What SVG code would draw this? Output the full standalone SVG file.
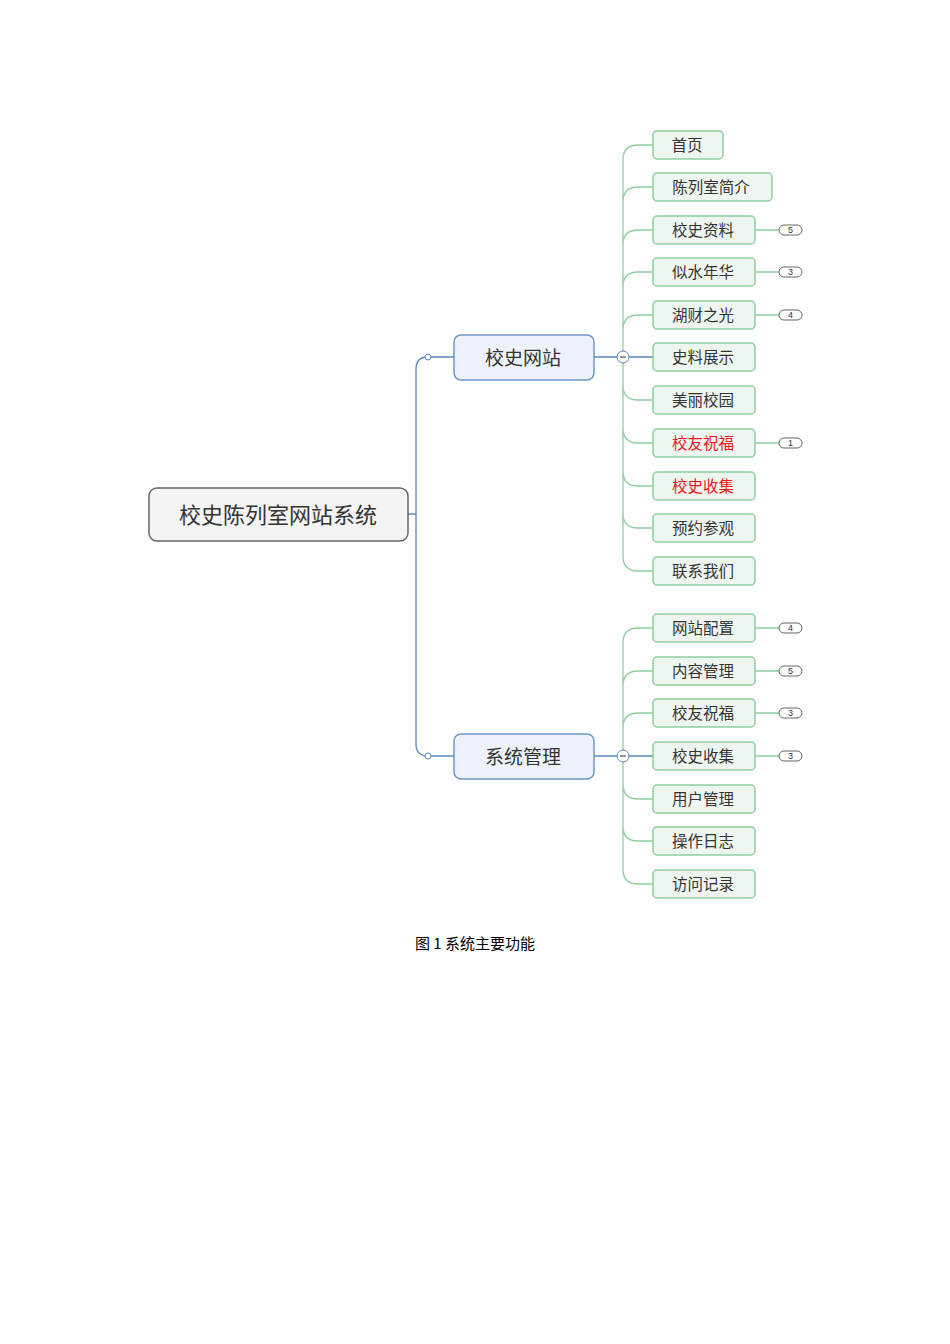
<svg xmlns="http://www.w3.org/2000/svg" width="950" height="1344" viewBox="0 0 950 1344">
<style>
text{font-family:"Noto Sans CJK SC","Liberation Sans",sans-serif;fill:#333;dominant-baseline:central;text-anchor:middle}
.leaf rect{fill:#eef7ef;stroke:#8fcfa0;stroke-width:1.5}
.leaf text{font-size:15.5px}
.red text{fill:#e8161b}
.br rect{fill:#eef3fb;stroke:#6d97c9;stroke-width:1.5}
.br text{font-size:19px}
.g{fill:none;stroke:#8fcfa0;stroke-width:1.3}
.b{fill:none;stroke:#5a88bf;stroke-width:1.3}
.badge{fill:#fff;stroke:#666;stroke-width:1}
.bt{font-size:9px;font-family:"Liberation Sans",sans-serif}
</style>
<g id="connectors">
<path class="b" d="M408,514 L416,514 M416,369 Q416,357 428,357 L454,357 M416,369 L416,744 Q416,756 428,756 L454,756"/>
<circle cx="428" cy="357" r="3" fill="#fff" stroke="#5a88bf"/>
<circle cx="428" cy="756" r="3" fill="#fff" stroke="#5a88bf"/>
<path class="b" d="M594,357 L653,357 M594,756 L653,756"/>
<path class="g" d="M623,357 L623,160 Q623,145 638,145 L653,145 M623,202 Q623,187 638,187 L653,187 M623,245 Q623,230 638,230 L653,230 M623,287 Q623,272 638,272 L653,272 M623,330 Q623,315 638,315 L653,315 M623,357 L623,556 Q623,571 638,571 L653,571 M623,385 Q623,400 638,400 L653,400 M623,428 Q623,443 638,443 L653,443 M623,471 Q623,486 638,486 L653,486 M623,513 Q623,528 638,528 L653,528"/>
<path class="g" d="M623,756 L623,643 Q623,628 638,628 L653,628 M623,686 Q623,671 638,671 L653,671 M623,728 Q623,713 638,713 L653,713 M623,756 L623,869 Q623,884 638,884 L653,884 M623,784 Q623,799 638,799 L653,799 M623,826 Q623,841 638,841 L653,841"/>
<circle cx="623" cy="357" r="6" fill="#fff" stroke="#5a88bf"/><path d="M620,357 h6" stroke="#333"/>
<circle cx="623" cy="756" r="6" fill="#fff" stroke="#5a88bf"/><path d="M620,756 h6" stroke="#333"/>
<path class="g" d="M755,230 H779 M755,272 H779 M755,315 H779 M755,443 H779 M755,628 H779 M755,671 H779 M755,713 H779 M755,756 H779"/>
<g>
<rect class="badge" x="779" y="225" width="23" height="10" rx="5"/><text class="bt" x="790.5" y="230">5</text>
<rect class="badge" x="779" y="267" width="23" height="10" rx="5"/><text class="bt" x="790.5" y="272">3</text>
<rect class="badge" x="779" y="310" width="23" height="10" rx="5"/><text class="bt" x="790.5" y="315">4</text>
<rect class="badge" x="779" y="438" width="23" height="10" rx="5"/><text class="bt" x="790.5" y="443">1</text>
<rect class="badge" x="779" y="623" width="23" height="10" rx="5"/><text class="bt" x="790.5" y="628">4</text>
<rect class="badge" x="779" y="666" width="23" height="10" rx="5"/><text class="bt" x="790.5" y="671">5</text>
<rect class="badge" x="779" y="708" width="23" height="10" rx="5"/><text class="bt" x="790.5" y="713">3</text>
<rect class="badge" x="779" y="751" width="23" height="10" rx="5"/><text class="bt" x="790.5" y="756">3</text>
</g>
</g>
<g id="root"><rect x="149" y="488" width="259" height="53" rx="8" fill="#f4f4f4" stroke="#666" stroke-width="1.5"/><text x="278" y="513" font-size="22">校史陈列室网站系统</text></g>
<g id="b1" class="br"><rect x="454" y="335" width="140" height="45" rx="7"/><text x="523" y="356">校史网站</text></g>
<g id="b2" class="br"><rect x="454" y="734" width="140" height="45" rx="7"/><text x="523" y="755">系统管理</text></g>
<g id="n1" class="leaf"><rect x="653" y="131" width="70" height="28" rx="4"/><text x="687" y="144">首页</text></g>
<g id="n2" class="leaf"><rect x="653" y="173" width="119" height="28" rx="4"/><text x="711" y="186">陈列室简介</text></g>
<g id="n3" class="leaf"><rect x="653" y="216" width="102" height="28" rx="4"/><text x="703" y="229">校史资料</text></g>
<g id="n4" class="leaf"><rect x="653" y="258" width="102" height="28" rx="4"/><text x="703" y="271">似水年华</text></g>
<g id="n5" class="leaf"><rect x="653" y="301" width="102" height="28" rx="4"/><text x="703" y="314">湖财之光</text></g>
<g id="n6" class="leaf"><rect x="653" y="343" width="102" height="28" rx="4"/><text x="703" y="356">史料展示</text></g>
<g id="n7" class="leaf"><rect x="653" y="386" width="102" height="28" rx="4"/><text x="703" y="399">美丽校园</text></g>
<g id="n8" class="leaf red"><rect x="653" y="429" width="102" height="28" rx="4"/><text x="703" y="442">校友祝福</text></g>
<g id="n9" class="leaf red"><rect x="653" y="472" width="102" height="28" rx="4"/><text x="703" y="485">校史收集</text></g>
<g id="n10" class="leaf"><rect x="653" y="514" width="102" height="28" rx="4"/><text x="703" y="527">预约参观</text></g>
<g id="n11" class="leaf"><rect x="653" y="557" width="102" height="28" rx="4"/><text x="703" y="570">联系我们</text></g>
<g id="m1" class="leaf"><rect x="653" y="614" width="102" height="28" rx="4"/><text x="703" y="627">网站配置</text></g>
<g id="m2" class="leaf"><rect x="653" y="657" width="102" height="28" rx="4"/><text x="703" y="670">内容管理</text></g>
<g id="m3" class="leaf"><rect x="653" y="699" width="102" height="28" rx="4"/><text x="703" y="712">校友祝福</text></g>
<g id="m4" class="leaf"><rect x="653" y="742" width="102" height="28" rx="4"/><text x="703" y="755">校史收集</text></g>
<g id="m5" class="leaf"><rect x="653" y="785" width="102" height="28" rx="4"/><text x="703" y="798">用户管理</text></g>
<g id="m6" class="leaf"><rect x="653" y="827" width="102" height="28" rx="4"/><text x="703" y="840">操作日志</text></g>
<g id="m7" class="leaf"><rect x="653" y="870" width="102" height="28" rx="4"/><text x="703" y="883">访问记录</text></g>
<text x="475" y="942" font-size="15" style="fill:#000" xml:space="preserve">图 1 系统主要功能</text>
</svg>
